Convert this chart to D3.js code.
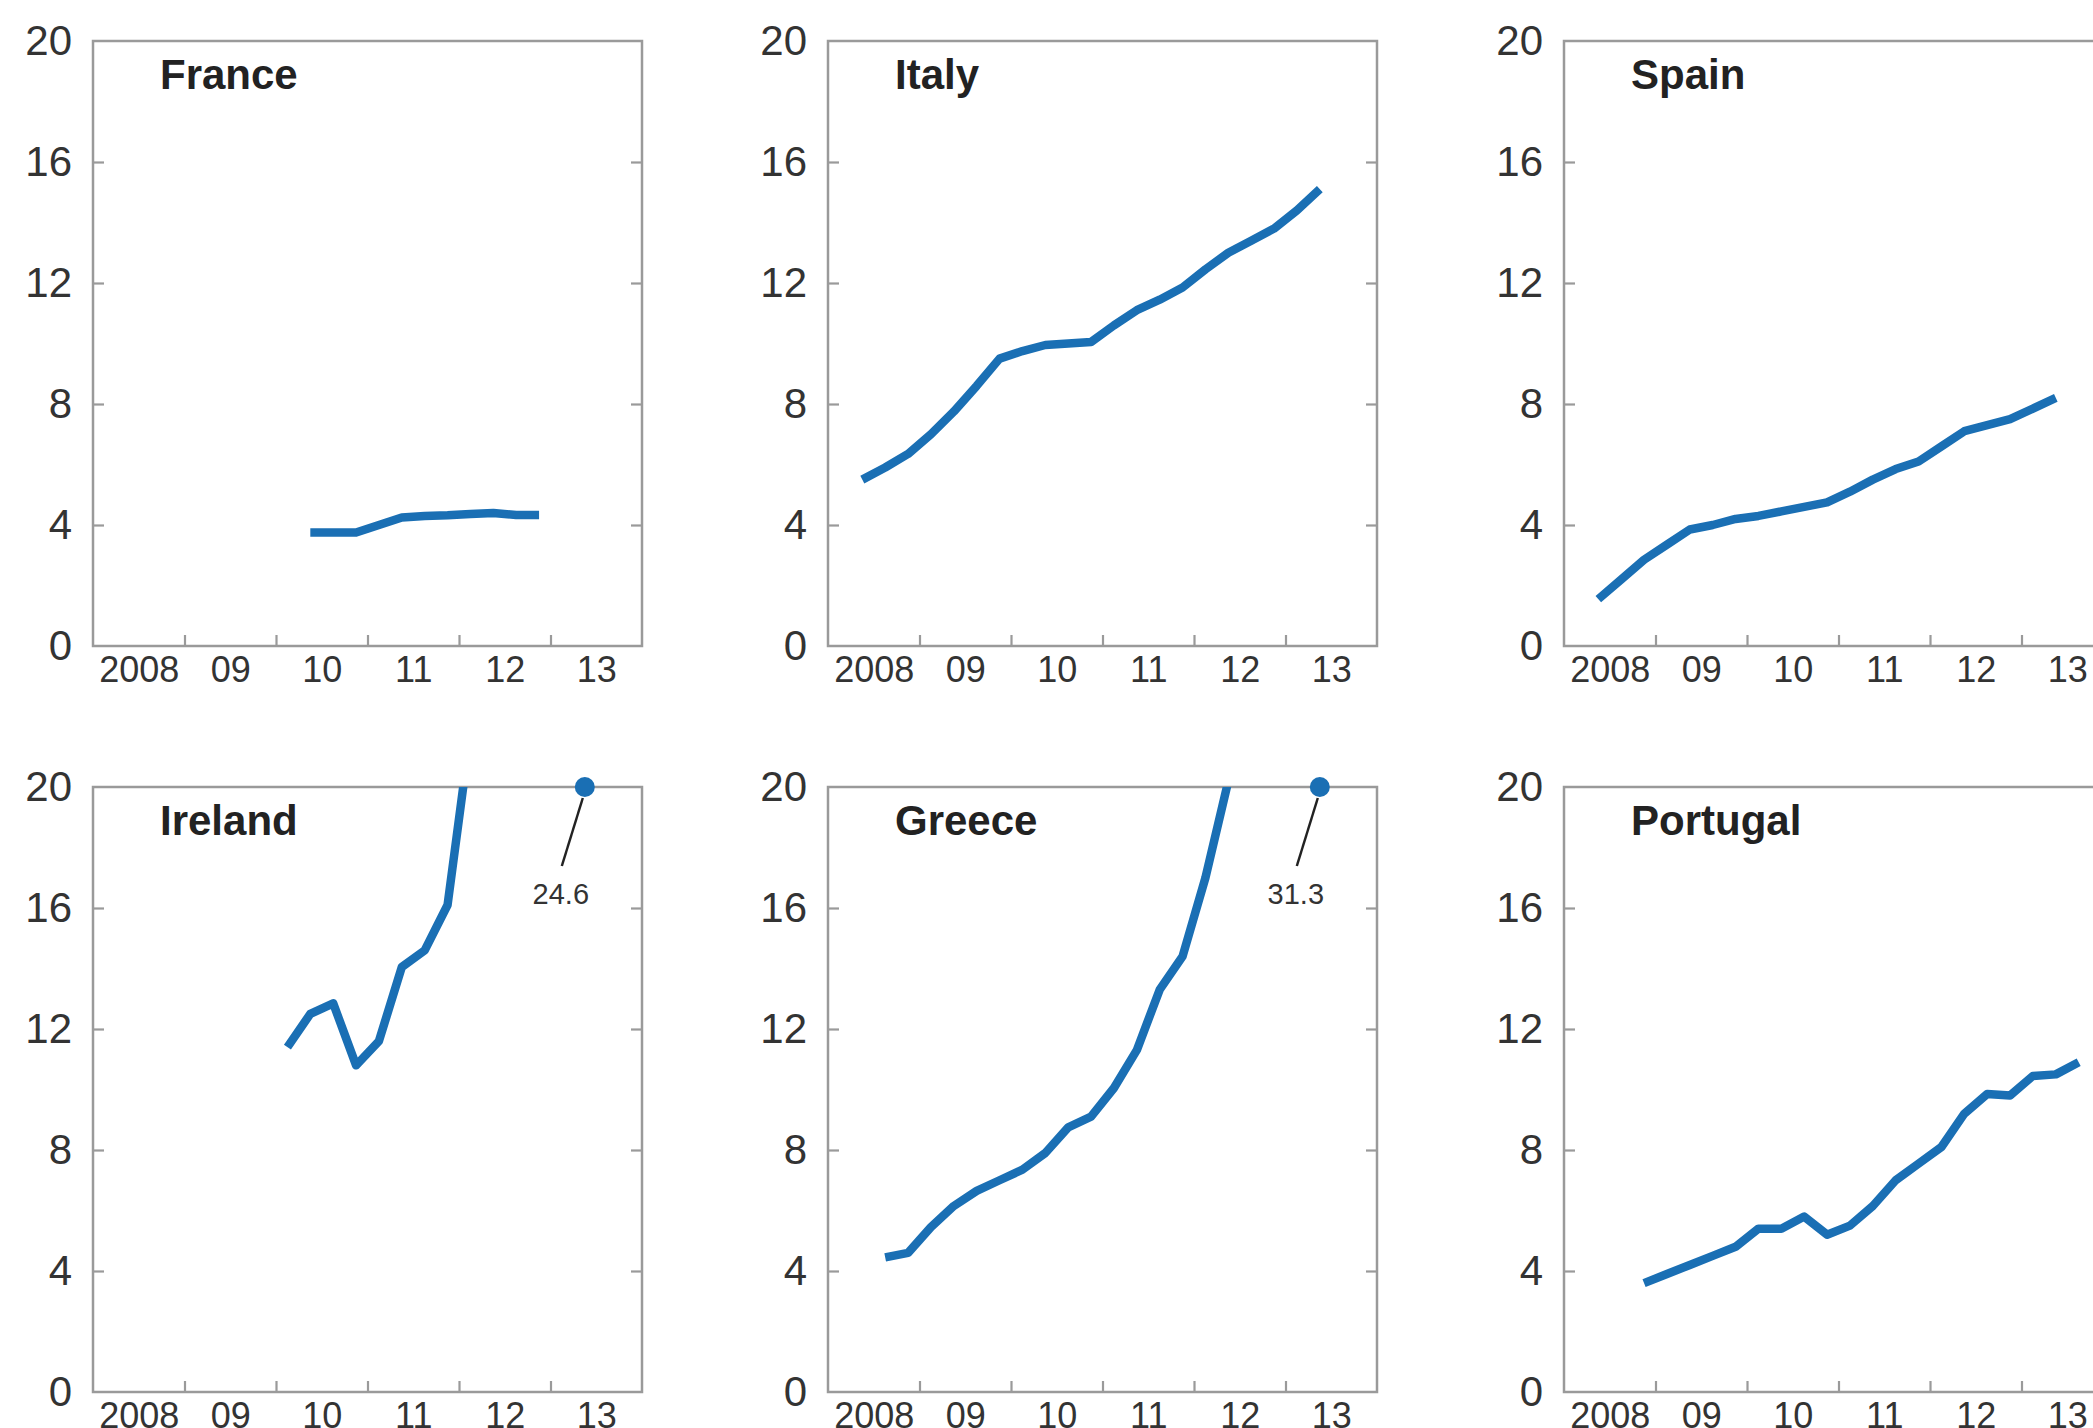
<!DOCTYPE html>
<html>
<head>
<meta charset="utf-8">
<script src="https://cdn.jsdelivr.net/npm/d3@7"></script>
<style>
  html, body { margin: 0; padding: 0; background: #fff; }
  svg { display: block; font-family: "Liberation Sans", Arial, Helvetica, sans-serif; }
</style>
</head>
<body>
<svg id="chart" width="2093" height="1428"></svg>
<script>
// ---- data (decimal year, value) ----
const countries = ["France", "Italy", "Spain", "Ireland", "Greece", "Portugal"];

const franceData = [
  [2010.375, 3.75], [2010.625, 3.75], [2010.875, 3.75], [2011.125, 4.0],
  [2011.375, 4.25], [2011.625, 4.3], [2011.875, 4.32], [2012.125, 4.36],
  [2012.375, 4.4], [2012.625, 4.33], [2012.875, 4.33]
];
const italyData = [
  [2008.375, 5.5], [2008.625, 5.9], [2008.875, 6.35], [2009.125, 7.0],
  [2009.375, 7.75], [2009.625, 8.6], [2009.875, 9.5], [2010.125, 9.75],
  [2010.375, 9.95], [2010.625, 10.0], [2010.875, 10.05], [2011.125, 10.6],
  [2011.375, 11.1], [2011.625, 11.45], [2011.875, 11.85], [2012.125, 12.45],
  [2012.375, 13.0], [2012.625, 13.4], [2012.875, 13.8], [2013.125, 14.4],
  [2013.375, 15.1]
];
const spainData = [
  [2008.375, 1.55], [2008.625, 2.2], [2008.875, 2.85], [2009.125, 3.35],
  [2009.375, 3.85], [2009.625, 4.0], [2009.875, 4.2], [2010.125, 4.3],
  [2010.375, 4.45], [2010.625, 4.6], [2010.875, 4.75], [2011.125, 5.1],
  [2011.375, 5.5], [2011.625, 5.85], [2011.875, 6.1], [2012.125, 6.6],
  [2012.375, 7.1], [2012.625, 7.3], [2012.875, 7.5], [2013.125, 7.85],
  [2013.375, 8.2]
];
const irelandData = [
  [2010.125, 11.4], [2010.375, 12.5], [2010.625, 12.85], [2010.875, 10.8],
  [2011.125, 11.6], [2011.375, 14.05], [2011.625, 14.6], [2011.875, 16.1],
  [2012.125, 21.8], [2013.375, 24.6]
];
const greeceData = [
  [2008.625, 4.45], [2008.875, 4.6], [2009.125, 5.45], [2009.375, 6.15],
  [2009.625, 6.65], [2009.875, 7.0], [2010.125, 7.35], [2010.375, 7.9],
  [2010.625, 8.75], [2010.875, 9.1], [2011.125, 10.05], [2011.375, 11.3],
  [2011.625, 13.3], [2011.875, 14.4], [2012.125, 17.0], [2012.375, 20.2],
  [2013.375, 31.3]
];
const portugalData = [
  [2008.875, 3.6], [2009.125, 3.9], [2009.375, 4.2], [2009.625, 4.5],
  [2009.875, 4.8], [2010.125, 5.4], [2010.375, 5.4], [2010.625, 5.8],
  [2010.875, 5.2], [2011.125, 5.5], [2011.375, 6.15], [2011.625, 7.0],
  [2011.875, 7.55], [2012.125, 8.1], [2012.375, 9.2], [2012.625, 9.85],
  [2012.875, 9.8], [2013.125, 10.45], [2013.375, 10.5], [2013.625, 10.9]
];
const seriesList = [franceData, italyData, spainData, irelandData, greeceData, portugalData];

const yTicks = [0, 4, 8, 12, 16, 20];
const yearTicks = [2009, 2010, 2011, 2012, 2013];
const yearLabelPos = [2008.5, 2009.5, 2010.5, 2011.5, 2012.5, 2013.5];
const yearLabels = ["2008", "09", "10", "11", "12", "13"];
const xDomain = [2008, 2014];
const yDomain = [0, 20];

// ---- layout ----
const W = 549, H = 605;
const colX = [93, 828, 1564];
const rowY = [41, 787];
const BLUE = "#1a6fb4";
const FRAME = "#9a9a9a";
const TEXT = "#333333";

const svg = d3.select("#chart");
svg.append("rect").attr("width", 2093).attr("height", 1428).attr("fill", "#fff");

const x = d3.scaleLinear().domain(xDomain).range([0, W]);
const y = d3.scaleLinear().domain(yDomain).range([H, 0]);

countries.forEach((name, i) => {
  const data = seriesList[i];
  const gx = colX[i % 3], gy = rowY[Math.floor(i / 3)];
  const g = svg.append("g").attr("transform", `translate(${gx},${gy})`);

  const clipId = "clip" + i;
  g.append("clipPath").attr("id", clipId)
    .append("rect").attr("x", 0).attr("y", 0).attr("width", W).attr("height", H);

  const left = g.append("g").call(
    d3.axisLeft(y).tickValues(yTicks).tickSize(-11).tickPadding(21).tickFormat(d3.format("d"))
  );
  const right = g.append("g").attr("transform", `translate(${W},0)`).call(
    d3.axisRight(y).tickValues(yTicks.slice(1, -1)).tickSize(-11).tickFormat("")
  );
  const bottom = g.append("g").attr("transform", `translate(0,${H})`).call(
    d3.axisBottom(x).tickValues(yearTicks).tickSize(-11).tickFormat("")
  );
  const labels = g.append("g").attr("transform", `translate(0,${H})`).call(
    d3.axisBottom(x).tickValues(yearLabelPos).tickSize(0).tickPadding(10)
      .tickFormat((d, k) => yearLabels[k])
  );

  [left, right, bottom, labels].forEach(a => {
    a.select(".domain").remove();
    a.selectAll("line").attr("stroke", FRAME).attr("stroke-width", 2.2);
  });
  left.selectAll(".tick").filter(d => d === 0 || d === 20).select("line").remove();
  left.selectAll("text").attr("font-size", 42).attr("fill", TEXT)
    .attr("font-family", "Liberation Sans, Arial, sans-serif");
  labels.selectAll("text").attr("font-size", 36).attr("fill", TEXT)
    .attr("font-family", "Liberation Sans, Arial, sans-serif");

  g.append("rect").attr("x", 0).attr("y", 0).attr("width", W).attr("height", H)
    .attr("fill", "none").attr("stroke", FRAME).attr("stroke-width", 2.5);

  const line = d3.line().x(d => x(d[0])).y(d => y(d[1]));
  g.append("path").datum(data)
    .attr("clip-path", `url(#${clipId})`)
    .attr("d", line)
    .attr("fill", "none").attr("stroke", BLUE).attr("stroke-width", 8.5)
    .attr("stroke-linejoin", "round").attr("stroke-linecap", "butt");

  const last = data[data.length - 1];
  if (last[1] > yDomain[1]) {
    const dx = x(last[0]), dy = y(yDomain[1]);
    g.append("line")
      .attr("x1", dx - 2).attr("y1", dy + 11)
      .attr("x2", dx - 23).attr("y2", dy + 79)
      .attr("stroke", "#222").attr("stroke-width", 2.5);
    g.append("circle").attr("cx", dx).attr("cy", dy).attr("r", 10).attr("fill", BLUE);
    g.append("text").attr("x", dx - 24).attr("y", dy + 117)
      .attr("text-anchor", "middle").attr("font-size", 29).attr("fill", TEXT)
      .text(d3.format(".1f")(last[1]));
  }

  g.append("text").attr("x", 67).attr("y", 48)
    .attr("font-size", 42).attr("font-weight", "bold").attr("fill", "#222")
    .text(name);
});
</script>
</body>
</html>
